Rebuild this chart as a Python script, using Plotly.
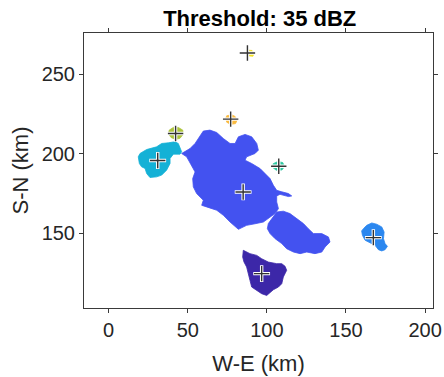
import plotly.graph_objects as go

# ---- data (km) ----
main_x = [46.1, 51.4, 54.6, 57.7, 59.8, 64.0, 68.3, 72.5, 76.7, 79.9, 82.0, 86.2, 90.4, 93.6, 94.6, 92.5,
          87.2, 86.2, 90.4, 95.7, 98.8, 102.0, 104.1, 106.2, 109.4, 113.6, 115.7, 113.6, 108.3, 106.2,
          106.2, 107.3, 105.1, 102.0, 97.8, 92.5, 87.2, 82.0, 78.8, 76.7, 72.5, 68.3, 61.9, 58.8, 59.8,
          55.6, 53.5, 53.1, 54.6, 51.4, 49.3]
main_y = [200.2, 203.3, 206.5, 210.7, 214.3, 214.9, 213.4, 209.6, 206.5, 206.5, 210.7, 212.2, 210.7, 206.5,
          202.3, 200.2, 198.1, 196.0, 193.9, 190.7, 187.6, 184.4, 180.2, 177.0, 176.1, 175.0, 173.5, 173.1,
          174.5, 173.5, 169.7, 165.5, 162.4, 160.3, 157.1, 156.0, 155.0, 152.5, 155.0, 157.1, 161.3, 164.5,
          166.6, 167.6, 170.8, 175.0, 179.2, 184.4, 188.6, 194.9, 198.1]

lobe_x = [106.2, 110.4, 114.6, 118.9, 123.1, 126.2, 129.4, 134.7, 138.9, 139.9, 136.8, 134.7, 130.4, 125.2,
          121.0, 116.8, 112.5, 109.4, 105.2, 102.0, 100.3, 100.9, 104.1]
lobe_y = [163.4, 163.9, 162.4, 159.2, 156.1, 152.9, 149.8, 149.8, 147.7, 144.5, 141.4, 138.2, 137.2, 138.2,
          137.2, 138.2, 140.3, 143.5, 146.6, 149.8, 152.9, 156.1, 160.3]

cyan_x = [19.8, 24.0, 30.3, 33.5, 37.7, 41.9, 44.0, 45.1, 46.1, 45.1, 40.9, 38.8, 38.8, 36.6, 33.5, 30.3,
          26.1, 24.0, 23.0, 20.8, 19.4, 18.7]
cyan_y = [200.2, 202.7, 204.4, 206.5, 206.9, 207.6, 206.5, 203.3, 201.3, 199.8, 199.8, 197.1, 193.9, 189.7,
          186.6, 185.5, 185.1, 187.6, 190.8, 191.8, 193.9, 198.1]

purple_x = [85.1, 89.3, 93.6, 96.7, 100.9, 106.2, 109.4, 111.5, 112.5, 110.4, 109.4, 107.3, 104.1, 102.0,
            99.9, 96.7, 93.6, 90.4, 89.3, 88.3, 87.2, 85.5, 84.7]
purple_y = [139.3, 137.2, 136.1, 134.0, 131.9, 130.9, 130.9, 129.2, 126.7, 122.5, 118.3, 116.2, 114.5, 112.4,
            110.9, 112.0, 114.1, 116.2, 120.4, 124.6, 128.8, 132.0, 135.1]

lblue_x = [161.0, 163.1, 166.3, 169.4, 172.6, 174.1, 173.7, 174.7, 176.2, 174.7, 172.6, 170.5, 168.4, 165.2,
           162.1, 160.4, 159.9]
lblue_y = [152.9, 155.0, 156.5, 155.7, 154.0, 150.8, 146.6, 143.5, 141.8, 139.7, 138.9, 139.7, 142.4, 143.9,
           145.6, 148.7, 151.5]

olive_x = [38.3, 40.9, 44.0, 46.8, 47.2, 45.1, 42.3, 39.4, 37.7]
olive_y = [214.9, 216.6, 216.6, 214.9, 212.4, 209.8, 209.0, 210.3, 212.8]

orange_x = [74.6, 77.7, 79.9, 81.2, 80.2, 77.1, 74.6, 74.0]
orange_y = [223.9, 224.6, 223.5, 221.2, 219.0, 218.5, 219.9, 222.3]

yellow_x = [88.4, 90.6, 92.0, 91.2, 88.8]
yellow_y = [265.2, 265.0, 263.4, 261.4, 261.6]

teal_x = [104.0, 107.0, 110.0, 111.2, 109.5, 106.0, 103.6]
teal_y = [193.8, 195.2, 194.5, 192.0, 189.8, 189.6, 191.5]

cells = [
    (main_x, main_y, "#4352f0"),
    (lobe_x, lobe_y, "#4352f0"),
    (cyan_x, cyan_y, "#14b1d6"),
    (purple_x, purple_y, "#3c27a8"),
    (lblue_x, lblue_y, "#2b87ef"),
    (olive_x, olive_y, "#adc43c"),
    (orange_x, orange_y, "#f9b93c"),
    (yellow_x, yellow_y, "#f2e01e"),
    (teal_x, teal_y, "#2ec7a0"),
]

centroid_x = [85.0, 31.0, 96.7, 167.3, 42.3, 77.1, 87.7, 107.5]
centroid_y = [176.0, 195.8, 124.6, 147.3, 212.8, 221.8, 263.4, 192.2]

x_ticks = [0, 50, 100, 150, 200]
y_ticks = [150, 200, 250]

FONT = "Liberation Sans, Arial, sans-serif"

fig = go.Figure()
for cx, cy, col in cells:
    fig.add_trace(go.Scatter(x=cx + [cx[0]], y=cy + [cy[0]], fill="toself", fillcolor=col,
                             mode="lines", line=dict(color=col, width=0.8),
                             hoverinfo="skip", showlegend=False))

fig.add_trace(go.Scatter(x=centroid_x, y=centroid_y, mode="markers",
                         marker=dict(symbol="cross-thin", size=12, line=dict(color="white", width=3.4)),
                         showlegend=False, hoverinfo="skip"))
fig.add_trace(go.Scatter(x=centroid_x, y=centroid_y, mode="markers",
                         marker=dict(symbol="cross-thin", size=11, line=dict(color="#333333", width=1.4)),
                         showlegend=False, hoverinfo="skip"))

axis_common = dict(showline=True, linecolor="#3a3a3a", linewidth=1, mirror="ticks", ticks="outside",
                   ticklen=4, tickcolor="#3a3a3a", showgrid=False, zeroline=False, automargin=False,
                   tickfont=dict(family=FONT, size=20, color="#262626"))

fig.update_layout(
    width=444, height=377,
    margin=dict(l=84, r=11, t=33, b=69),
    paper_bgcolor="white", plot_bgcolor="white",
    title=dict(text="<b>Threshold: 35 dBZ</b>", x=0.585, xanchor="center", y=0.952, yanchor="middle",
               font=dict(family=FONT, size=22, color="black")),
    xaxis=dict(range=[-15.6, 205], tickvals=x_ticks,
               title=dict(text="W-E (km)", standoff=15, font=dict(family=FONT, size=22, color="#262626")),
               **axis_common),
    yaxis=dict(range=[103, 276], tickvals=y_ticks,
               title=dict(text="S-N (km)", standoff=6, font=dict(family=FONT, size=22, color="#262626")),
               **axis_common),
)

fig.write_html("out.html")
